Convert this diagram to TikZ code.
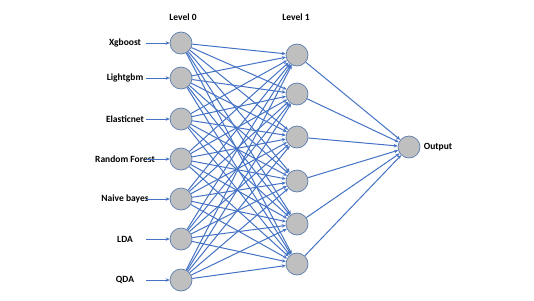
\documentclass[tikz,border=0pt]{standalone}
\usepackage{fontspec}
\setmainfont{Carlito}
\usetikzlibrary{arrows.meta}
\definecolor{linkblue}{HTML}{4472C4}
\definecolor{unitedge}{HTML}{5A7DAF}
\definecolor{unitfill}{HTML}{BFBFBF}

\begin{document}
\begin{tikzpicture}[x=1pt,y=-1pt,
  unit/.style={circle,draw=unitedge,fill=unitfill,line width=0.7pt,minimum size=22pt,inner sep=0pt},
  link/.style={draw=linkblue,line width=1pt,-{Stealth[length=4pt,width=3.5pt]}},
  lab/.style={font=\bfseries\fontsize{9.5}{11}\selectfont}]
\useasboundingbox (0,0) rectangle (534,300);

% level 0 with its inputs
\foreach \name/\y [count=\i from 0] in {Xgboost/43,Lightgbm/78,Elasticnet/119,Random Forest/159,Naive bayes/199,LDA/239,QDA/280} {
  \node[unit] (a\i) at (181,\y) {};
  \node[lab] (n\i) at (125,\y) {\name};
  \coordinate (s\i) at (146,\y);
  \draw[link] (s\i) -- (a\i);
}

% level 1
\foreach \y [count=\j from 0] in {55,94,137,181,224,264}
  \node[unit] (b\j) at (297,\y) {};

\node[unit] (c) at (409,147) {};
\node[lab,anchor=west] (out) at (c.east) {Output};

\node[lab] (h0) at (183,17) {Level 0};
\node[lab] (h1) at (296,17) {Level 1};

\foreach \i in {0,...,6}
  \foreach \j in {0,...,5}
    \draw[link] (a\i) -- (b\j);
\foreach \j in {0,...,5}
  \draw[link] (b\j) -- (c);
\end{tikzpicture}
\end{document}
